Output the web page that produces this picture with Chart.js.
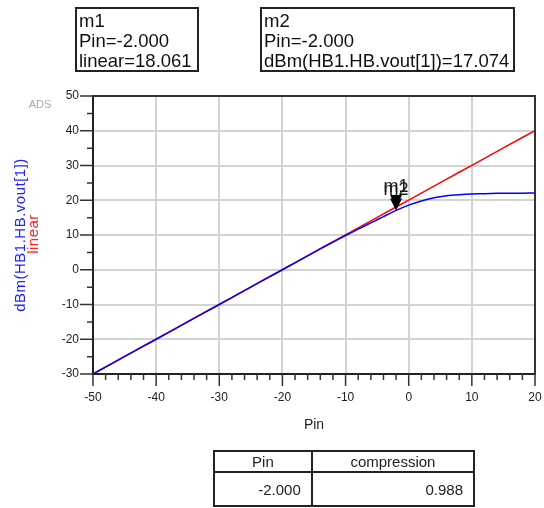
<!DOCTYPE html>
<html>
<head>
<meta charset="utf-8">
<script src="https://cdn.jsdelivr.net/npm/chart.js@4.4.1/dist/chart.umd.min.js"></script>
<style>
  body { margin: 0; background: #fff; font-family: "Liberation Sans", Arial, sans-serif; }
  #wrap { position: relative; width: 544px; height: 508px; }
  #wrap canvas { position: absolute; left: 0; top: 0; }
  .mbox {
    position: absolute; top: 7px; height: 65px; box-sizing: border-box;
    border: 2px solid #222; padding: 2px 0 0 2px;
    font-size: 18.5px; line-height: 20px; color: #111; white-space: nowrap;
  }
  #m1box { left: 75px; width: 124px; }
  #m2box { left: 260px; width: 255px; }
  #tbl {
    position: absolute; left: 213px; top: 450px; width: 262px;
    border-collapse: collapse; font-size: 15px; color: #222;
  }
  #tbl td { border: 2px solid #222; padding: 0 10px; }
  #tbl tr.h td { height: 19px; text-align: center; }
  #tbl tr.v td { height: 32px; text-align: right; }
</style>
</head>
<body>
<div id="wrap">
  <canvas id="myChart" width="544" height="508"></canvas>
  <div class="mbox" id="m1box"></div>
  <div class="mbox" id="m2box"></div>
  <table id="tbl">
    <tr class="h"><td id="th0"></td><td id="th1"></td></tr>
    <tr class="v"><td id="tv0"></td><td id="tv1"></td></tr>
  </table>
</div>
<script>
// data
let pin = [-50, -48, -46, -44, -42, -40, -38, -36, -34, -32, -30, -28, -26, -24, -22, -20, -18, -16,
  -14, -12, -10, -8, -6, -4, -2, 0, 2, 4, 6, 8, 10, 12, 14, 16, 18, 20];
let vout = [-30, -28, -26, -24, -22, -20, -18, -16, -14, -12, -10, -8, -6, -4, -2, 0, 2, 4,
  6, 7.95, 9.85, 11.7, 13.5, 15.3, 17.074, 18.6, 19.8, 20.7, 21.3, 21.6, 21.8, 21.9, 22.0, 22.0, 22.05, 22.1];
let linear = [-29.939, -27.939, -25.939, -23.939, -21.939, -19.939, -17.939, -15.939, -13.939, -11.939,
  -9.939, -7.939, -5.939, -3.939, -1.939, 0.061, 2.061, 4.061, 6.061, 8.061, 10.061, 12.061, 14.061,
  16.061, 18.061, 20.061, 22.061, 24.061, 26.061, 28.061, 30.061, 32.061, 34.061, 36.061, 38.061, 40.061];

let xTicks = [-50, -40, -30, -20, -10, 0, 10, 20];
let yTicks = [-30, -20, -10, 0, 10, 20, 30, 40, 50];

let markerNames = ["m1", "m2"];
let markerPin = [-2, -2];
let markerVal = [18.061, 17.074];

let m1Lines = ["m1", "Pin=-2.000", "linear=18.061"];
let m2Lines = ["m2", "Pin=-2.000", "dBm(HB1.HB.vout[1])=17.074"];
let tableHead = ["Pin", "compression"];
let tableRow = ["-2.000", "0.988"];

document.getElementById("m1box").innerHTML = m1Lines.join("<br>");
document.getElementById("m2box").innerHTML = m2Lines.join("<br>");
document.getElementById("th0").textContent = tableHead[0];
document.getElementById("th1").textContent = tableHead[1];
document.getElementById("tv0").textContent = tableRow[0];
document.getElementById("tv1").textContent = tableRow[1];

const FONT = "'Liberation Sans', Arial, sans-serif";

// frame, ticks, axis titles and markers in ADS style
const adsPlugin = {
  id: "ads",
  afterDraw(chart) {
    let ctx = chart.ctx;
    let a = chart.chartArea;
    let xs = chart.scales.x;
    let ys = chart.scales.y;
    ctx.save();

    // top and right frame
    ctx.strokeStyle = "#333";
    ctx.lineWidth = 2;
    ctx.beginPath();
    ctx.moveTo(a.left, a.top);
    ctx.lineTo(a.right, a.top);
    ctx.lineTo(a.right, a.bottom);
    ctx.stroke();

    // outside ticks
    ctx.lineWidth = 1.5;
    ctx.beginPath();
    for (let v = -50; v <= 20; v += 2) {
      let px = xs.getPixelForValue(v);
      let len = v % 10 === 0 ? 12 : 6;
      ctx.moveTo(px, a.bottom);
      ctx.lineTo(px, a.bottom + len);
    }
    for (let v = -30; v <= 50; v += 5) {
      let py = ys.getPixelForValue(v);
      let len = v % 10 === 0 ? 13 : 6;
      ctx.moveTo(a.left, py);
      ctx.lineTo(a.left - len, py);
    }
    ctx.stroke();

    // y axis titles
    let cy = (a.top + a.bottom) / 2;
    ctx.font = "15px " + FONT;
    ctx.letterSpacing = "0.5px";
    ctx.textAlign = "center";
    ctx.textBaseline = "alphabetic";
    ctx.save();
    ctx.translate(25, cy);
    ctx.rotate(-Math.PI / 2);
    ctx.fillStyle = "#2020ff";
    ctx.fillText("dBm(HB1.HB.vout[1])", 0, 0);
    ctx.restore();
    ctx.save();
    ctx.translate(38, cy - 1);
    ctx.rotate(-Math.PI / 2);
    ctx.fillStyle = "#ff2020";
    ctx.fillText("linear", 0, 0);
    ctx.restore();
    ctx.letterSpacing = "0px";

    // ADS tag
    ctx.font = "11px " + FONT;
    ctx.fillStyle = "#a8a8a8";
    ctx.textBaseline = "middle";
    ctx.fillText("ADS", 40, 105);

    // markers
    ctx.font = "18px " + FONT;
    ctx.textBaseline = "alphabetic";
    for (let i = 0; i < markerNames.length; i++) {
      let px = xs.getPixelForValue(markerPin[i]);
      let py = ys.getPixelForValue(markerVal[i]);
      ctx.fillStyle = "#000";
      ctx.beginPath();
      ctx.moveTo(px, py);
      ctx.lineTo(px - 6, py - 12);
      ctx.lineTo(px + 6, py - 12);
      ctx.closePath();
      ctx.fill();
      ctx.fillStyle = "#1a1a1a";
      ctx.fillText(markerNames[i], px, py - 15);
    }
    ctx.restore();
  }
};

const ctx = document.getElementById("myChart");

new Chart(ctx, {
  type: "line",
  data: {
    datasets: [
      {
        label: "dBm(HB1.HB.vout[1])",
        data: pin.map((p, i) => ({ x: p, y: vout[i] })),
        borderColor: "#0000ff",
        borderWidth: 1.5,
        pointRadius: 0,
        tension: 0.2
      },
      {
        label: "linear",
        data: pin.map((p, i) => ({ x: p, y: linear[i] })),
        borderColor: "#ff0000",
        borderWidth: 1.5,
        pointRadius: 0
      }
    ]
  },
  options: {
    responsive: false,
    animation: false,
    layout: { padding: { left: 0, right: 9, top: 96, bottom: 74 } },
    plugins: { legend: { display: false }, tooltip: { enabled: false } },
    scales: {
      x: {
        type: "linear",
        min: -50,
        max: 20,
        afterBuildTicks: (s) => { s.ticks = xTicks.map((v) => ({ value: v })); },
        afterFit: (s) => { s.height = 60; s.paddingLeft = 0; s.paddingRight = 0; },
        grid: { color: "#d3d3d3", lineWidth: 2, drawTicks: false },
        border: { color: "#222", width: 2 },
        ticks: { padding: 16, color: "#222", font: { size: 12, family: FONT }, maxRotation: 0 },
        title: { display: true, text: "Pin", color: "#222", font: { size: 14, family: FONT }, padding: { top: 12, bottom: 0 } }
      },
      y: {
        min: -30,
        max: 50,
        afterBuildTicks: (s) => { s.ticks = yTicks.map((v) => ({ value: v })); },
        afterFit: (s) => { s.width = 93; s.paddingTop = 0; s.paddingBottom = 0; },
        grid: { color: "#d3d3d3", lineWidth: 2, drawTicks: false },
        border: { color: "#222", width: 2 },
        ticks: { padding: 14, color: "#222", font: { size: 12, family: FONT } }
      }
    }
  },
  plugins: [adsPlugin]
});
</script>
</body>
</html>
